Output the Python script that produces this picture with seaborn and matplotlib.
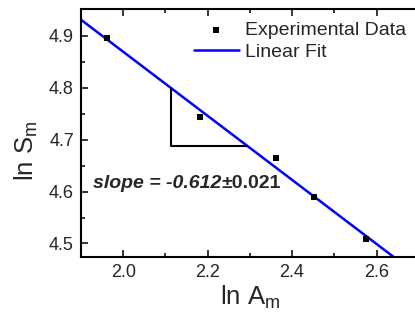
import numpy as np
import pandas as pd
import matplotlib
matplotlib.use("Agg")
import matplotlib.pyplot as plt
import seaborn as sns

# data
ln_A = [1.962, 2.181, 2.362, 2.452, 2.575]
ln_S = [4.896, 4.744, 4.664, 4.589, 4.509]
slope_text = "slope = -0.612"
err_text = "\u00b10.021"
# x positions of the slope triangle corners (on the fit line)
tri_x = [2.113, 2.293]

sns.set_style("ticks", {"xtick.top": True, "xtick.direction": "in",
                        "ytick.direction": "in"})
plt.rcParams['font.family'] = ['Liberation Sans', 'DejaVu Sans']
plt.rcParams['mathtext.fontset'] = 'custom'
plt.rcParams['mathtext.rm'] = 'Liberation Sans'

df = pd.DataFrame({"ln_A": ln_A, "ln_S": ln_S})

fig = plt.figure(figsize=(4.15, 3.2), dpi=100)
ax = fig.add_axes([0.195, 0.197, 0.814, 0.775])
ax.set_xlim(1.9, 2.7)
ax.set_ylim(4.474, 4.952)

# linear fit across the whole axis
sns.regplot(data=df, x="ln_A", y="ln_S", ax=ax, scatter=False, ci=None,
            truncate=False, color=(0, 0, 1), line_kws={"lw": 1.8},
            label="Linear Fit")
sns.scatterplot(data=df, x="ln_A", y="ln_S", ax=ax, marker="s", color="black",
                s=22, linewidth=0, label="Experimental Data", zorder=3)
ax.set_xlim(1.9, 2.7)
ax.set_ylim(4.474, 4.952)

# slope triangle
k, b = np.polyfit(ln_A, ln_S, 1)
y_top = k * tri_x[0] + b
y_bot = k * tri_x[1] + b
ax.plot([tri_x[0], tri_x[0], tri_x[1]], [y_top, y_bot, y_bot], color="black", lw=1.5)

t = ax.text(1.929, 4.606, slope_text, fontsize=14, fontweight="bold",
            fontstyle="italic", va="baseline")
ax.annotate(err_text, xy=(1, 0), xycoords=t, fontsize=14, fontweight="bold",
            va="bottom", ha="left")

ax.set_xticks([2.0, 2.2, 2.4, 2.6])
ax.set_yticks([4.5, 4.6, 4.7, 4.8, 4.9])
ax.set_xticks([2.1, 2.3, 2.5], minor=True)
ax.set_yticks([4.55, 4.65, 4.75, 4.85], minor=True)
ax.tick_params(which="both", direction="in", top=True, bottom=True,
               left=True, right=False, width=1.3, labelsize=13, pad=5)
ax.tick_params(which="major", length=5)
ax.tick_params(which="minor", length=3)
for s in ["left", "bottom", "top", "right"]:
    ax.spines[s].set_visible(True)
    ax.spines[s].set_linewidth(1.5)
    ax.spines[s].set_color("black")

ax.set_xlabel(r"ln A$_\mathregular{m}$", fontsize=18.5, labelpad=2)
ax.set_ylabel(r"ln S$_\mathregular{m}$", fontsize=18.5)
ax.yaxis.set_label_coords(-0.122, 0.43)

handles, labels = ax.get_legend_handles_labels()
order = [labels.index("Experimental Data"), labels.index("Linear Fit")]
ax.legend([handles[i] for i in order], [labels[i] for i in order],
          loc="upper right", bbox_to_anchor=(0.996, 0.995), frameon=False,
          fontsize=14, handlelength=2.3, handletextpad=0.3, labelspacing=0.2,
          borderaxespad=0.2, markerscale=0.8)

fig.savefig("out.png", dpi=100)
